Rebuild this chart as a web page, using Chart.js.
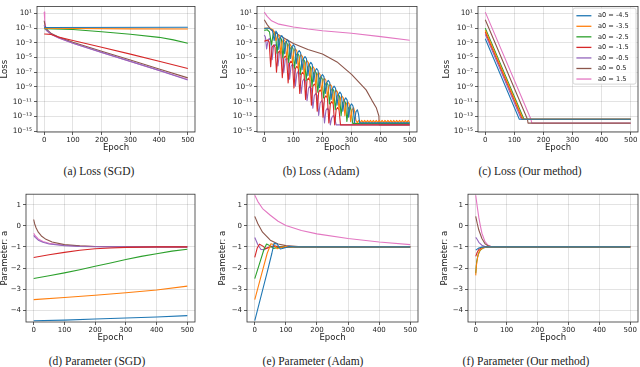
<!DOCTYPE html>
<html>
<head>
<meta charset="utf-8">
<script src="https://cdn.jsdelivr.net/npm/chart.js@4.4.0/dist/chart.umd.min.js"></script>
<style>
    html, body { margin: 0; padding: 0; background: #fff; }
    body { width: 640px; height: 367px; position: relative; overflow: hidden; }
    canvas { position: absolute; }
    .cap {
        position: absolute;
        font-family: 'Liberation Serif', serif;
        font-size: 11.5px;
        color: #222;
        white-space: nowrap;
        transform: translate(-50%, -50%);
    }
</style>
</head>
<body>
<canvas id="lossSgd"></canvas>
<canvas id="lossAdam"></canvas>
<canvas id="lossOurs"></canvas>
<canvas id="paramSgd"></canvas>
<canvas id="paramAdam"></canvas>
<canvas id="paramOurs"></canvas>

<div class="cap" style="left:99px;top:171px">(a) Loss (SGD)</div>
<div class="cap" style="left:321px;top:171px">(b) Loss (Adam)</div>
<div class="cap" style="left:530px;top:171px">(c) Loss (Our method)</div>
<div class="cap" style="left:97px;top:361px">(d) Parameter (SGD)</div>
<div class="cap" style="left:313px;top:361px">(e) Parameter (Adam)</div>
<div class="cap" style="left:526px;top:361px">(f) Parameter (Our method)</div>

<script>
// ---------- Data ----------
var seriesLabels = ['a0 = -4.5', 'a0 = -3.5', 'a0 = -2.5', 'a0 = -1.5', 'a0 = -0.5', 'a0 = 0.5', 'a0 = 1.5'];
var seriesColors = ['#1f77b4', '#ff7f0e', '#2ca02c', '#d62728', '#9467bd', '#8c564b', '#e377c2'];

var epochTicks = [0, 100, 200, 300, 400, 500];
var lossTicks = [1e1, 1e-1, 1e-3, 1e-5, 1e-7, 1e-9, 1e-11, 1e-13, 1e-15];
var lossTickLabels = ['10¹', '10⁻¹', '10⁻³', '10⁻⁵', '10⁻⁷', '10⁻⁹', '10⁻¹¹', '10⁻¹³', '10⁻¹⁵'];
var paramTicks = [1, 0, -1, -2, -3, -4];
var paramTickLabels = ['1', '0', '−1', '−2', '−3', '−4'];

// (a) loss, SGD  [epoch, loss]
var sgdLoss = [
    [[0, 0.12], [500, 0.13]],
    [[0, 0.1], [100, 0.09], [300, 0.08], [500, 0.075]],
    [[0, 0.085], [100, 0.065], [200, 0.032], [300, 0.015], [400, 0.0056], [450, 0.0025], [500, 0.0009]],
    [[0, 0.016], [25, 0.014], [50, 0.006], [100, 2.1e-3], [200, 2.5e-4], [300, 2.9e-5], [400, 3.2e-6], [500, 3.2e-7]],
    [[0, 0.25], [3, 0.08], [10, 0.04], [25, 0.015], [50, 0.005], [100, 9e-4], [200, 5e-5], [300, 3e-6], [400, 1.8e-7], [500, 9e-9]],
    [[0, 1.0], [3, 0.2], [10, 0.06], [25, 0.018], [50, 0.006], [100, 1.2e-3], [200, 7e-5], [300, 4.5e-6], [400, 2.8e-7], [500, 1.7e-8]],
    [[0, 16], [2, 1.2], [5, 0.15], [10, 0.05], [25, 0.014], [50, 0.0045], [100, 8.5e-4], [200, 4.8e-5], [300, 2.9e-6], [400, 1.7e-7], [500, 1e-8]]
];

// (b) loss, Adam
var adamLoss = [
    [[0, 0.09], [15, 0.1], [28, 0.05], [34, 2e-3], [40, 4e-2], [45, 2e-2], [50, 1.3e-4], [55, 5e-3], [60, 1e-2], [65, 5e-3],
     [70, 3.2e-5], [75, 1.25e-3], [80, 2.5e-3], [85, 1.25e-3], [90, 7.4e-6], [95, 2.8e-4], [100, 5.6e-4], [105, 2.8e-4],
     [110, 1.4e-6], [115, 4.5e-5], [120, 8.9e-5], [125, 4.5e-5], [130, 2.2e-7], [135, 7e-6], [140, 1.4e-5], [145, 7e-6],
     [150, 3.5e-8], [155, 1.1e-6], [160, 2.2e-6], [165, 1.1e-6], [170, 5.2e-9], [175, 1.6e-7], [180, 3.2e-7], [185, 1.6e-7],
     [190, 7.9e-10], [195, 2.5e-8], [200, 5e-8], [205, 2.5e-8], [210, 1.3e-10], [215, 4e-9], [220, 7.9e-9], [225, 4e-9],
     [230, 2e-11], [235, 6.5e-10], [240, 1.3e-9], [245, 6.5e-10], [250, 3.2e-12], [255, 1e-10], [260, 2e-10], [265, 1e-10],
     [270, 5e-13], [275, 1.6e-11], [280, 3.2e-11], [285, 1.6e-11], [290, 7.9e-14], [295, 2.5e-12], [300, 5e-12], [305, 2.5e-12],
     [310, 1.3e-14], [315, 4e-13], [320, 7.9e-13], [324, 2e-13], [328, 1.3e-14], [500, 1.3e-14]],
    [[0, 0.1], [20, 0.095], [32, 0.05], [40, 2e-3], [47, 1.2e-2], [52, 6e-3], [57, 3.1e-5], [62, 1.55e-3], [67, 3.1e-3], [72, 1.55e-3],
     [77, 7.8e-6], [82, 3.9e-4], [87, 7.8e-4], [92, 3.9e-4], [97, 1.9e-6], [102, 7.5e-5], [107, 1.5e-4], [112, 7.5e-5],
     [117, 3e-7], [122, 1.15e-5], [127, 2.3e-5], [132, 1.15e-5], [137, 4.7e-8], [142, 1.85e-6], [147, 3.7e-6], [152, 1.85e-6],
     [157, 7.4e-9], [162, 3e-7], [167, 5.9e-7], [172, 3e-7], [177, 1.2e-9], [182, 4.6e-8], [187, 9.3e-8], [192, 4.6e-8],
     [197, 1.9e-10], [202, 7.5e-9], [207, 1.5e-8], [212, 7.5e-9], [217, 3e-11], [222, 1.15e-9], [227, 2.3e-9], [232, 1.15e-9],
     [237, 4.7e-12], [242, 1.85e-10], [247, 3.7e-10], [252, 1.85e-10], [257, 7.4e-13], [262, 3e-11], [267, 5.9e-11], [272, 3e-11],
     [277, 1.2e-13], [282, 4.6e-12], [287, 9.3e-12], [292, 4.6e-12], [297, 1.9e-14], [302, 7.5e-13], [307, 1.5e-12], [311, 4e-13],
     [315, 2.8e-14], [320, 1.4e-14], [325, 2.8e-14], [330, 1.4e-14], [335, 2.8e-14], [340, 1.4e-14], [345, 2.8e-14], [350, 1.4e-14],
     [355, 2.8e-14], [360, 1.4e-14], [365, 2.8e-14], [370, 1.4e-14], [375, 2.8e-14], [380, 1.4e-14], [385, 2.8e-14], [390, 1.4e-14],
     [395, 2.8e-14], [400, 1.4e-14], [405, 2.8e-14], [410, 1.4e-14], [415, 2.8e-14], [420, 1.4e-14], [425, 2.8e-14], [430, 1.4e-14],
     [435, 2.8e-14], [440, 1.4e-14], [445, 2.8e-14], [450, 1.4e-14], [455, 2.8e-14], [460, 1.4e-14], [465, 2.8e-14], [470, 1.4e-14],
     [475, 2.8e-14], [480, 1.4e-14], [485, 2.8e-14], [490, 1.4e-14], [495, 2.8e-14], [500, 1.4e-14]],
    [[0, 0.05], [10, 0.06], [18, 0.03], [25, 5e-4], [30, 1.2e-2], [34, 2.4e-2], [39, 1.2e-2], [44, 3.8e-5], [49, 3e-3], [54, 6e-3],
     [59, 3e-3], [64, 9.5e-6], [69, 7.5e-4], [74, 1.5e-3], [79, 7.5e-4], [84, 2.2e-6], [89, 1.6e-4], [94, 3.2e-4], [99, 1.6e-4],
     [104, 3.5e-7], [109, 2e-5], [114, 3.9e-5], [119, 2e-5], [124, 4.9e-8], [129, 3.1e-6], [134, 6.2e-6], [139, 3.1e-6],
     [144, 7.8e-9], [149, 4.9e-7], [154, 9.8e-7], [159, 4.9e-7], [164, 1.2e-9], [169, 7.5e-8], [174, 1.5e-7], [179, 7.5e-8],
     [184, 1.9e-10], [189, 1.25e-8], [194, 2.5e-8], [199, 1.25e-8], [204, 3.1e-11], [209, 2e-9], [214, 3.9e-9], [219, 2e-9],
     [224, 4.9e-12], [229, 3.1e-10], [234, 6.2e-10], [239, 3.1e-10], [244, 7.8e-13], [249, 4.9e-11], [254, 9.8e-11], [259, 4.9e-11],
     [264, 1.2e-13], [269, 7.5e-12], [274, 1.5e-11], [279, 7.5e-12], [284, 2e-14], [289, 1.25e-12], [294, 2.5e-12], [299, 6e-13],
     [304, 1.1e-14], [500, 1.1e-14]],
    [[0, 1.6e-3], [6, 2e-3], [12, 2.5e-3], [17, 1.25e-3], [22, 5.6e-7], [27, 2.5e-4], [32, 5e-4], [37, 2.5e-4], [42, 1e-7],
     [47, 4e-5], [52, 7.9e-5], [57, 4e-5], [62, 1.8e-8], [67, 8e-6], [72, 1.6e-5], [77, 8e-6], [82, 3.5e-9], [87, 1.6e-6],
     [92, 3.2e-6], [97, 1.6e-6], [102, 7e-10], [107, 3.2e-7], [112, 6.3e-7], [117, 3.2e-7], [122, 1.3e-10], [127, 5e-8],
     [132, 1e-7], [137, 5e-8], [142, 2e-11], [147, 8e-9], [152, 1.6e-8], [157, 8e-9], [162, 3.2e-12], [167, 1.25e-9],
     [172, 2.5e-9], [177, 1.25e-9], [182, 5e-13], [187, 2e-10], [192, 4e-10], [197, 2e-10], [202, 7.9e-14], [207, 3.2e-11],
     [212, 6.3e-11], [217, 3.2e-11], [222, 1.3e-14], [227, 5e-12], [232, 1e-11], [237, 5e-12], [242, 7e-15], [247, 8e-13],
     [252, 1.6e-12], [257, 8e-13], [262, 7e-15], [500, 7e-15]],
    [[0, 1.2e-2], [4, 6e-3], [8, 1.5e-4], [13, 2e-3], [17, 4e-3], [22, 2e-3], [27, 5e-6], [32, 3.2e-4], [37, 6.3e-4], [42, 3.2e-4],
     [47, 7e-7], [52, 4e-5], [57, 7.9e-5], [62, 4e-5], [67, 8.9e-8], [72, 5e-6], [77, 1e-5], [82, 5e-6], [87, 1.1e-8],
     [92, 6.5e-7], [97, 1.3e-6], [102, 6.5e-7], [107, 1.3e-9], [112, 6.5e-8], [117, 1.3e-7], [122, 6.5e-8], [127, 1.3e-10],
     [132, 6.5e-9], [137, 1.3e-8], [142, 6.5e-9], [147, 1.3e-11], [152, 6.5e-10], [157, 1.3e-9], [162, 6.5e-10], [167, 1.3e-12],
     [172, 6.5e-11], [177, 1.3e-10], [182, 6.5e-11], [187, 1.3e-13], [192, 6.5e-12], [197, 1.3e-11], [202, 6.5e-12], [207, 1.3e-14],
     [212, 6.5e-13], [217, 1.3e-12], [222, 6.5e-13], [227, 7e-15], [232, 6.5e-14], [237, 1.3e-13], [242, 6.5e-14], [247, 7e-15], [500, 7e-15]],
    [[0, 1.4], [10, 0.3], [25, 0.05], [50, 0.012], [75, 3e-3], [100, 8e-4], [150, 1.2e-4], [200, 3e-5], [250, 2.5e-6], [300, 5e-8],
     [350, 4e-10], [370, 1.5e-11], [385, 1.5e-12], [394, 1.1e-13], [395, 7e-15], [500, 7e-15]],
    [[0, 15], [10, 4], [25, 1.0], [50, 0.35], [100, 0.14], [150, 0.075], [200, 0.045], [300, 0.02], [400, 0.007], [500, 0.0022]]
];

// (c) loss, our method
var oursLoss = [
    [[0, 3.5e-3], [117, 4e-14], [500, 4e-14]],
    [[0, 5e-2], [130, 4e-14], [500, 4e-14]],
    [[0, 0.1], [133, 4e-14], [500, 4e-14]],
    [[0, 3e-2], [128, 4e-14], [500, 4e-14]],
    [[0, 1.4e-2], [124, 4e-14], [500, 4e-14]],
    [[0, 1.35], [145, 4e-14], [147, 1.2e-14], [500, 1.2e-14]],
    [[0, 15], [157, 4e-14], [160, 1.2e-14], [500, 1.2e-14]]
];

// (d) parameter, SGD  [epoch, a]
var sgdParam = [
    [[0, -4.5], [100, -4.47], [200, -4.42], [300, -4.37], [400, -4.32], [500, -4.26]],
    [[0, -3.5], [100, -3.4], [200, -3.29], [300, -3.17], [400, -3.04], [500, -2.86]],
    [[0, -2.5], [50, -2.37], [100, -2.23], [150, -2.08], [200, -1.92], [250, -1.76], [300, -1.6], [350, -1.45], [400, -1.32], [450, -1.2], [500, -1.11]],
    [[0, -1.5], [50, -1.37], [100, -1.26], [150, -1.16], [200, -1.09], [250, -1.05], [300, -1.02], [400, -1.0], [500, -1.0]],
    [[0, -0.45], [5, -0.55], [15, -0.68], [30, -0.78], [50, -0.86], [100, -0.94], [150, -0.98], [200, -0.99], [300, -1.0], [500, -1.0]],
    [[0, 0.3], [3, 0.1], [8, -0.1], [15, -0.3], [25, -0.48], [40, -0.64], [60, -0.77], [100, -0.89], [150, -0.95], [200, -0.98], [300, -1.0], [500, -1.0]],
    [[0, -0.35], [5, -0.47], [15, -0.62], [30, -0.74], [50, -0.83], [100, -0.92], [150, -0.96], [200, -0.98], [300, -1.0], [500, -1.0]]
];

// (e) parameter, Adam
var adamParam = [
    [[0, -4.5], [20, -3.35], [40, -2.2], [55, -1.3], [62, -0.83], [72, -0.86], [82, -1.1], [95, -1.05], [110, -0.98], [130, -1.0], [500, -1.0]],
    [[0, -3.5], [20, -2.4], [40, -1.3], [52, -0.85], [62, -0.9], [72, -1.08], [85, -1.03], [100, -0.98], [120, -1.0], [500, -1.0]],
    [[0, -2.5], [15, -1.8], [30, -1.1], [38, -0.86], [50, -0.95], [60, -1.07], [75, -1.02], [100, -0.99], [500, -1.0]],
    [[0, -1.5], [8, -1.05], [15, -0.87], [25, -0.95], [35, -1.08], [50, -1.0], [65, -0.97], [80, -1.01], [100, -1.0], [500, -1.0]],
    [[0, -0.55], [10, -0.9], [20, -1.12], [30, -1.13], [45, -1.0], [60, -0.95], [80, -0.98], [100, -1.02], [120, -1.0], [500, -1.0]],
    [[0, 0.45], [10, 0.1], [25, -0.3], [50, -0.68], [75, -0.86], [100, -0.94], [150, -0.99], [200, -1.0], [500, -1.0]],
    [[0, 1.45], [10, 1.15], [25, 0.82], [50, 0.5], [75, 0.22], [100, 0.02], [150, -0.22], [200, -0.38], [300, -0.6], [400, -0.77], [500, -0.89]]
];

// (f) parameter, our method
var oursParam = [
    [[0, -1.15], [10, -1.05], [20, -1.01], [30, -1.0], [500, -1.0]],
    [[0, -2.35], [2, -1.9], [6, -1.5], [12, -1.2], [20, -1.07], [35, -1.0], [500, -1.0]],
    [[0, -2.25], [3, -1.7], [8, -1.35], [15, -1.15], [25, -1.04], [40, -1.0], [500, -1.0]],
    [[0, -1.45], [5, -1.25], [10, -1.12], [20, -1.03], [30, -1.0], [500, -1.0]],
    [[0, -0.55], [5, -0.65], [10, -0.78], [20, -0.92], [30, -0.98], [45, -1.0], [500, -1.0]],
    [[0, 0.45], [5, 0.1], [10, -0.2], [20, -0.6], [30, -0.85], [40, -0.95], [55, -1.0], [500, -1.0]],
    [[0, 1.45], [5, 0.9], [10, 0.4], [15, 0.0], [20, -0.35], [30, -0.75], [40, -0.92], [50, -0.98], [60, -1.0], [500, -1.0]]
];

// ---------- Plugins ----------
// Full box around the plot area, drawn above the lines like matplotlib spines.
var framePlugin = {
    id: 'frame',
    afterDatasetsDraw: function(chart) {
        var a = chart.chartArea, ctx = chart.ctx;
        ctx.save();
        ctx.strokeStyle = '#333';
        ctx.lineWidth = 0.8;
        ctx.strokeRect(a.left, a.top, a.right - a.left, a.bottom - a.top);
        ctx.restore();
    }
};

// Legend box in the upper right corner of the plot area.
var legendBoxPlugin = {
    id: 'legendBox',
    afterDraw: function(chart, args, opts) {
        if (!opts.show) return;
        var a = chart.chartArea, ctx = chart.ctx;
        var w = 63, h = 76;
        var x = a.right - w - 2, y = a.top + 1.7;
        ctx.save();
        ctx.fillStyle = 'rgba(255,255,255,0.85)';
        ctx.strokeStyle = '#cccccc';
        ctx.lineWidth = 0.8;
        ctx.beginPath();
        ctx.roundRect(x, y, w, h, 2);
        ctx.fill();
        ctx.stroke();
        ctx.font = '6.6px "DejaVu Sans"';
        ctx.textBaseline = 'middle';
        ctx.textAlign = 'left';
        chart.data.datasets.forEach(function(ds, i) {
            var ry = y + 7.6 + i * 10.55;
            ctx.strokeStyle = ds.borderColor;
            ctx.lineWidth = 1.3;
            ctx.beginPath();
            ctx.moveTo(x + 3.4, ry);
            ctx.lineTo(x + 18.4, ry);
            ctx.stroke();
            ctx.fillStyle = '#222';
            ctx.fillText(ds.label, x + 25, ry);
        });
        ctx.restore();
    }
};

// ---------- Chart builder ----------
var tickFont = { family: 'DejaVu Sans', size: 7 };
var titleFont = { family: 'DejaVu Sans', size: 8.5 };

function buildChart(p) {
    var canvas = document.getElementById(p.id);
    canvas.width = p.width;
    canvas.height = p.height;
    canvas.style.left = p.left + 'px';
    canvas.style.top = p.top + 'px';
    canvas.style.width = p.width + 'px';
    canvas.style.height = p.height + 'px';

    var datasets = p.series.map(function(pts, i) {
        return {
            label: seriesLabels[i],
            data: pts.map(function(q) { return { x: q[0], y: q[1] }; }),
            borderColor: seriesColors[i],
            backgroundColor: seriesColors[i],
            borderWidth: 1.1,
            borderJoinStyle: 'round',
            pointRadius: 0,
            tension: 0,
            fill: false
        };
    });

    var grid = {
        color: 'rgba(0,0,0,0.14)',
        lineWidth: 0.8,
        drawTicks: true,
        tickLength: 3,
        tickColor: '#333',
        tickWidth: 0.8
    };

    var yScale;
    if (p.log) {
        yScale = {
            type: 'logarithmic',
            min: Math.pow(10, -15.13),
            max: Math.pow(10, 1.95),
            afterBuildTicks: function(s) { s.ticks = lossTicks.map(function(v) { return { value: v }; }); },
            ticks: { font: { family: 'DejaVu Sans', size: 7.4 }, color: '#222', padding: 2, autoSkip: false,
                     callback: function(v, i) { return lossTickLabels[i]; } },
            title: { display: true, text: 'Loss', font: titleFont, color: '#222', padding: 0 }
        };
    } else {
        yScale = {
            type: 'linear',
            min: -4.56,
            max: 1.5,
            afterBuildTicks: function(s) { s.ticks = paramTicks.map(function(v) { return { value: v }; }); },
            ticks: { font: tickFont, color: '#222', padding: 2, autoSkip: false,
                     callback: function(v, i) { return paramTickLabels[i]; } },
            title: { display: true, text: 'Parameter: a', font: titleFont, color: '#222', padding: 0 }
        };
    }
    yScale.grid = grid;
    yScale.border = { display: false };
    yScale.afterFit = function(s) { s.width = p.yw; };

    return new Chart(canvas.getContext('2d'), {
        type: 'line',
        data: { datasets: datasets },
        options: {
            responsive: false,
            animation: false,
            devicePixelRatio: 1,
            layout: { padding: { left: 0, right: 2, top: 0, bottom: 0 }, autoPadding: false },
            plugins: {
                legend: { display: false },
                tooltip: { enabled: false },
                legendBox: { show: !!p.legend }
            },
            scales: {
                x: {
                    type: 'linear',
                    min: -25,
                    max: 525,
                    afterBuildTicks: function(s) { s.ticks = epochTicks.map(function(v) { return { value: v }; }); },
                    afterFit: function(s) { s.height = 21; },
                    grid: grid,
                    border: { display: false },
                    ticks: { font: tickFont, color: '#222', padding: 1, maxRotation: 0, autoSkip: false,
                             callback: function(v) { return String(v); } },
                    title: { display: true, text: 'Epoch', font: titleFont, color: '#222', padding: 0 }
                },
                y: yScale
            }
        },
        plugins: [framePlugin, legendBoxPlugin]
    });
}

// ---------- Panels ----------
var panels = [
    { id: 'lossSgd',   left: 0,   top: 0,   width: 197, height: 153, yw: 37, log: true,  series: sgdLoss },
    { id: 'lossAdam',  left: 220, top: 0,   width: 199, height: 153, yw: 37, log: true,  series: adamLoss },
    { id: 'lossOurs',  left: 442, top: 0,   width: 198, height: 153, yw: 36, log: true,  series: oursLoss, legend: true },
    { id: 'paramSgd',  left: 0,   top: 188, width: 197, height: 155, yw: 26, log: false, series: sgdParam },
    { id: 'paramAdam', left: 218, top: 188, width: 202, height: 155, yw: 29, log: false, series: adamParam },
    { id: 'paramOurs', left: 440, top: 188, width: 200, height: 155, yw: 28, log: false, series: oursParam }
];

panels.forEach(buildChart);
</script>
</body>
</html>
